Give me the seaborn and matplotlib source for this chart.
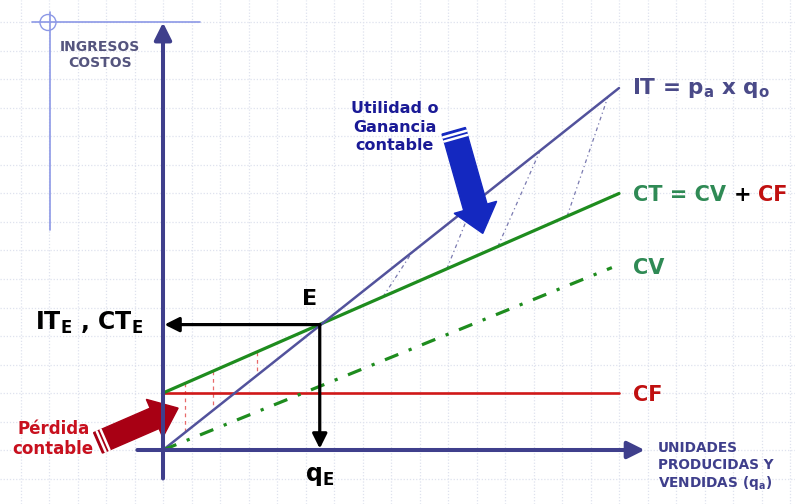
import numpy as np
import pandas as pd
import matplotlib
matplotlib.use("Agg")
import matplotlib.pyplot as plt
import seaborn as sns
from matplotlib.patches import FancyArrow, Circle

# datos (unidades de la cuadricula, origen en el cruce de ejes)
q = [0, 16]
it_vals = [0, 12.7]
ct_vals = [2, 9.0]
cf_vals = [2, 2]
q_cv = [0, 15.75]
cv_vals = [0, 6.4]
q_E = 5.5
val_E = 4.4

# lineas punteadas de ganancia (desde CT hasta IT) y de perdida (verticales)
gan_q_ini = [7.72, 9.96, 11.75, 14.18]
gan_q_fin = [8.74, 10.88, 13.23, 15.61]
per_q = [0.77, 1.75, 3.3]

c_eje = "#3f3f8c"
c_it = "#52529c"
c_ct = "#1e8c1e"
c_cf = "#d01818"
c_txt_ct = "#2f8a55"

sns.set_style("white")
plt.rcParams['font.family'] = ['DejaVu Sans']
plt.rcParams['mathtext.fontset'] = 'dejavusans'

fig = plt.figure(figsize=(7.95, 5.04), dpi=100)
ax = fig.add_axes([0, 0, 1, 1])
ax.set_xlim(-163 / 28.5, (795 - 163) / 28.5)
ax.set_ylim(-(504 - 450) / 28.5, 450 / 28.5)
ax.set_xticks(np.arange(-5, 23))
ax.set_yticks(np.arange(-1, 16))
ax.grid(True, color="#dfe2ee", linestyle=(0, (1, 1.5)), linewidth=0.9)
ax.tick_params(length=0, labelbottom=False, labelleft=False)
for s in ax.spines.values():
    s.set_visible(False)

# decoracion arriba a la izquierda
ax.plot([(32 - 163) / 28.5, (200 - 163) / 28.5], [15.0, 15.0], color="#8c98e6", lw=1.2)
ax.plot([(50 - 163) / 28.5, (50 - 163) / 28.5], [(450 - 12) / 28.5, (450 - 230) / 28.5], color="#8c98e6", lw=1.2)
ax.add_patch(Circle(((48 - 163) / 28.5, 15.0), 0.28, fill=False, ec="#8c98e6", lw=1.0))

# flechas gruesas
def flecha(x0, y0, x1, y1, color, ancho, cab_ancho, cab_largo, z):
    dx, dy = x1 - x0, y1 - y0
    ax.add_patch(FancyArrow(x0, y0, dx, dy, width=ancho, head_width=cab_ancho,
                            head_length=cab_largo, length_includes_head=True,
                            color=color, zorder=z))
    n = np.hypot(dx, dy)
    ux, uy = dx / n, dy / n
    px, py = -uy, ux
    for t in (0.12, 0.27):
        cx, cy = x0 + ux * t, y0 + uy * t
        ax.plot([cx - px * ancho / 2, cx + px * ancho / 2],
                [cy - py * ancho / 2, cy + py * ancho / 2], color="white", lw=1.8, zorder=z + 0.1)

flecha(-2.28, 0.25, 0.53, 1.47, "#a80014", 0.78, 1.45, 0.9, 2.5)

# ejes
ax.annotate("", xy=(0, 15.0), xytext=(0, -1.0),
            arrowprops=dict(arrowstyle="-|>", color=c_eje, lw=2.9, mutation_scale=26, shrinkA=0, shrinkB=0),
            zorder=4)
ax.annotate("", xy=(16.9, 0), xytext=(-0.9, 0),
            arrowprops=dict(arrowstyle="-|>", color=c_eje, lw=2.9, mutation_scale=26, shrinkA=0, shrinkB=0),
            zorder=4)

# hachurado
for a, b in zip(gan_q_ini, gan_q_fin):
    ya = ct_vals[0] + (ct_vals[1] - ct_vals[0]) * a / q[1]
    yb = it_vals[1] * b / q[1]
    ax.plot([a, b], [ya, yb], color="#7a7ab0", lw=0.9, linestyle=(0, (3, 2.5, 1, 2.5)))
for a in per_q:
    ya = ct_vals[0] + (ct_vals[1] - ct_vals[0]) * a / q[1]
    yb = it_vals[1] * a / q[1]
    ax.plot([a, a], [ya, yb], color="#e86a6a", lw=0.9, linestyle=(0, (3, 3)))

df = pd.DataFrame({"q": q, "IT": it_vals, "CT": ct_vals, "CF": cf_vals})
sns.lineplot(data=df, x="q", y="CF", ax=ax, color=c_cf, lw=1.9)
sns.lineplot(data=df, x="q", y="CT", ax=ax, color=c_ct, lw=2.3)
sns.lineplot(data=df, x="q", y="IT", ax=ax, color=c_it, lw=1.8)
l_cv = sns.lineplot(x=q_cv, y=cv_vals, ax=ax, color=c_ct, lw=2.3)
l_cv.lines[-1].set_dashes((4.5, 3.5, 1, 3.5))
ax.set_xlabel("")
ax.set_ylabel("")

# flechas desde E
ax.annotate("", xy=(0.05, val_E), xytext=(q_E, val_E),
            arrowprops=dict(arrowstyle="-|>", color="black", lw=2.3, mutation_scale=22, shrinkA=0, shrinkB=0))
ax.annotate("", xy=(q_E, 0.05), xytext=(q_E, val_E),
            arrowprops=dict(arrowstyle="-|>", color="black", lw=2.3, mutation_scale=22, shrinkA=0, shrinkB=0))

flecha(10.2, 11.2, 11.22, 7.6, "#1428c0", 0.85, 1.55, 0.95, 5)

# textos
ax.text(-2.21, 13.86, "INGRESOS\nCOSTOS", ha="center", va="center", fontsize=10,
        fontweight="bold", color="#55557e", linespacing=1.15)
ax.text(8.14, 11.32, "Utilidad o\nGanancia\ncontable", ha="center", va="center",
        fontsize=11.5, fontweight="bold", color="#1a1a96", linespacing=1.3)
ax.text(-3.85, 0.4, "Pérdida\ncontable", ha="center", va="center",
        fontsize=12, fontweight="bold", color="#c8101e", linespacing=1.15)

ax.text(16.45, 12.7, r"IT = p$_\mathbf{a}$ x q$_\mathbf{o}$", ha="left", va="center",
        fontsize=15.5, fontweight="bold", color="#4a4a88")
t1 = ax.text(16.5, 8.95, "CT = CV ", ha="left", va="center", fontsize=15,
             fontweight="bold", color=c_txt_ct)
t2 = ax.annotate("+ ", xycoords=t1, xy=(1, 0.5), va="center", fontsize=15,
                 fontweight="bold", color="black")
ax.annotate("CF", xycoords=t2, xy=(1, 0.5), va="center", fontsize=15,
            fontweight="bold", color="#c01010")
ax.text(16.5, 6.39, "CV", ha="left", va="center", fontsize=15, fontweight="bold", color=c_txt_ct)
ax.text(16.5, 1.93, "CF", ha="left", va="center", fontsize=15, fontweight="bold", color="#c01010")

ax.text(5.16, 5.3, "E", ha="center", va="center", fontsize=16, fontweight="bold", color="black")
ax.text(-2.6, 4.45, r"IT$_\mathbf{E}$ , CT$_\mathbf{E}$", ha="center", va="center",
        fontsize=17, fontweight="bold", color="black")
ax.text(5.5, -0.9, r"q$_\mathbf{E}$", ha="center", va="center", fontsize=17,
        fontweight="bold", color="black")
ax.text(17.37, 0.3, "UNIDADES\nPRODUCIDAS Y\n" + r"VENDIDAS (q$_\mathbf{a}$)", ha="left", va="top",
        fontsize=9.8, fontweight="bold", color=c_eje, linespacing=1.2)

fig.savefig("out.png", dpi=100)
